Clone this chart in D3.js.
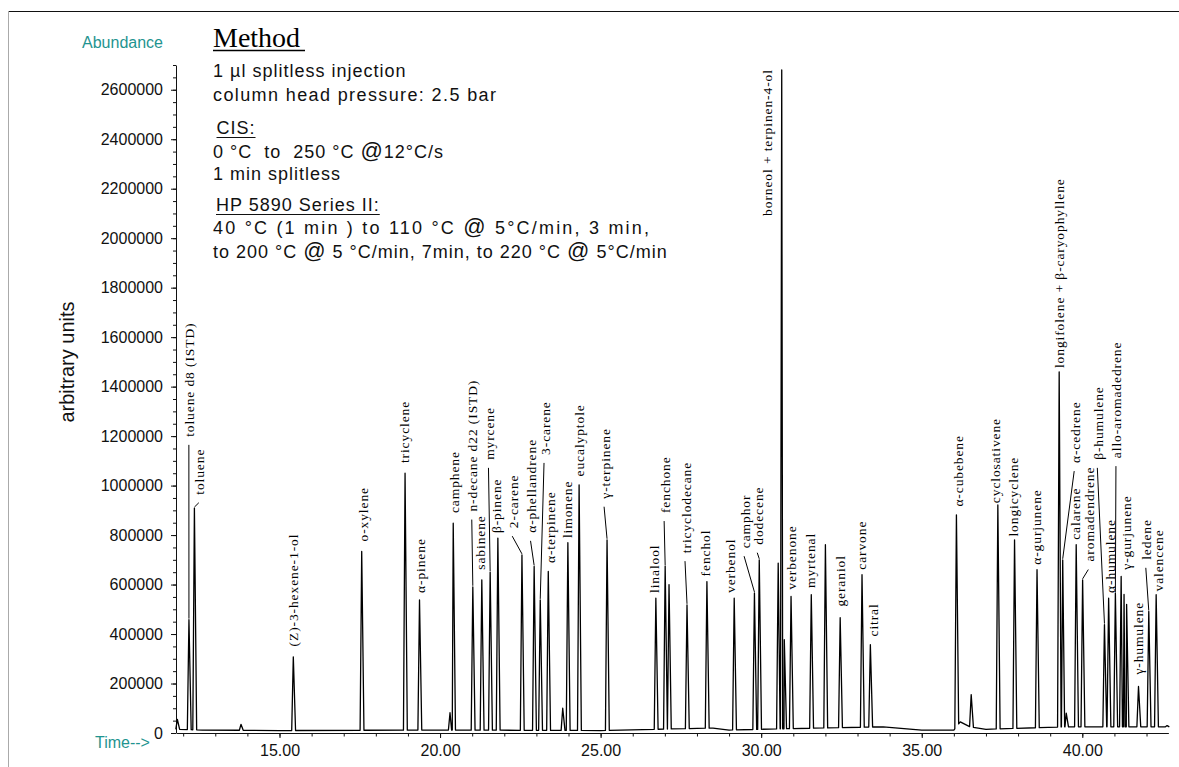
<!DOCTYPE html>
<html>
<head>
<meta charset="utf-8">
<script src="https://cdn.jsdelivr.net/npm/d3@7"></script>
<style>
  html, body { margin: 0; padding: 0; background: #fff; }
  svg { display: block; }
  text { white-space: pre; }
</style>
</head>
<body>
<svg id="chart" width="1179" height="767"></svg>
<script>
// labelled peaks: retention time (min), apex abundance, label centre time, abundance at label foot
const labelNames = [
  "toluene d8 (ISTD)", "toluene", "(Z)-3-hexene-1-ol", "o-xylene", "tricyclene",
  "α-pinene", "camphene", "n-decane d22 (ISTD)", "sabinene", "myrcene",
  "β-pinene", "2-carene", "α-phellandrene", "3-carene", "α-terpinene",
  "limonene", "eucalyptole", "γ-terpinene", "linalool", "fenchone",
  "tricyclodecane", "fenchol", "verbenol", "camphor", "dodecene",
  "borneol + terpinen-4-ol", "verbenone", "myrtenal", "geraniol", "carvone",
  "citral", "α-cubebene", "cyclosativene", "longicyclene", "α-gurjunene",
  "longifolene + β-caryophyllene", "α-cedrene", "calarene", "aromadendrene", "β-humulene",
  "α-humulene", "allo-aromadedrene", "γ-gurjunene", "γ-humulene", "ledene",
  "valencene"
];
const peakTimes = [
  12.18, 12.35, 15.43, 17.56, 18.91,
  19.36, 20.41, 21.02, 21.30, 21.56,
  21.80, 22.55, 22.93, 23.12, 23.37,
  23.98, 24.33, 25.20, 26.72, 27.01,
  27.69, 28.31, 29.16, 29.79, 29.94,
  30.64, 30.93, 31.56, 32.46, 33.14,
  33.40, 36.08, 37.37, 37.89, 38.59,
  39.28, 39.39, 39.81, 40.01, 40.69,
  40.82, 41.03, 41.21, 41.75, 42.07,
  42.30
];
const peakHeights = [
  458000, 909000, 308000, 734000, 1050000,
  538000, 848000, 591000, 619000, 650000,
  788000, 720000, 673000, 538000, 653000,
  769000, 1003000, 781000, 545000, 675000,
  518000, 612000, 545000, 566000, 700000,
  2680000, 552000, 559000, 466000, 640000,
  357000, 882000, 922000, 781000, 660000,
  1460000, 700000, 761000, 619000, 438000,
  545000, 566000, 633000, 188000, 491000,
  559000
];
const labelTimes = [
  12.24, 12.55, 15.48, 17.66, 18.91,
  19.43, 20.47, 21.05, 21.28, 21.57,
  21.78, 22.31, 22.88, 23.30, 23.47,
  23.99, 24.36, 25.17, 26.70, 27.04,
  27.69, 28.31, 29.07, 29.53, 29.94,
  30.24, 30.98, 31.56, 32.49, 33.14,
  33.52, 36.17, 37.32, 37.88, 38.61,
  39.31, 39.81, 39.83, 40.25, 40.53,
  40.90, 41.11, 41.42, 41.78, 42.04,
  42.40
];
const labelLevels = [
  1197000, 963000, 350000, 774000, 1091000,
  566000, 889000, 895000, 660000, 1104000,
  808000, 828000, 809000, 1124000, 687000,
  788000, 1037000, 947000, 566000, 889000,
  727000, 633000, 566000, 747000, 761000,
  2090000, 579000, 586000, 511000, 660000,
  390000, 915000, 929000, 794000, 680000,
  1475000, 1091000, 781000, 693000, 1104000,
  566000, 1111000, 660000, 236000, 700000,
  572000
];

// peaks without a label
const minorTimes = [11.82, 13.80, 20.31, 23.82, 27.13, 30.53, 30.72, 32.00, 36.54, 39.50, 41.30, 41.38, 42.64];
const minorHeights = [55000, 35000, 82000, 100000, 600000, 687000, 377000, 761000, 155000, 80000, 560000, 520000, 30000];

// baseline drift
const baseTimes = [11.79, 12.6, 15.0, 20.0, 25.0, 28.5, 29.0, 31.0, 33.8, 35.0, 36.0, 36.2, 36.5, 37.0, 39.5, 42.68];
const baseLevels = [15000, 12000, 10000, 12000, 10000, 20000, 12000, 18000, 25000, 12000, 12000, 45000, 25000, 15000, 25000, 25000];

const xTickValues = [15, 20, 25, 30, 35, 40];
const yTickValues = [0, 200000, 400000, 600000, 800000, 1000000, 1200000, 1400000,
  1600000, 1800000, 2000000, 2200000, 2400000, 2600000];

const methodLines = [
  "1 µl splitless injection",
  "column head pressure: 2.5 bar",
  "CIS:",
  "0 °C  to  250 °C @12°C/s",
  "1 min splitless",
  "HP 5890 Series II:",
  "40 °C (1 min ) to 110 °C @ 5°C/min, 3 min,",
  "to 200 °C @ 5 °C/min, 7min, to 220 °C @ 5°C/min"
];

const SANS = "'Liberation Sans', Arial, sans-serif";
const SERIF = "'Liberation Serif', 'Times New Roman', serif";
const TEAL = "#1f9490";

const svg = d3.select("#chart");

// frame
svg.append("line").attr("x1", 8).attr("x2", 1179).attr("y1", 11.5).attr("y2", 11.5)
  .attr("stroke", "#111").attr("stroke-width", 1.2);
svg.append("line").attr("x1", 8.5).attr("x2", 8.5).attr("y1", 11).attr("y2", 767)
  .attr("stroke", "#aaa");

// scales
const pxPerMin = (1082.3 - 279.5) / 25;
const x = d3.scaleLinear()
  .domain([11.79, 42.68])
  .range([279.5 + (11.79 - 15) * pxPerMin, 279.5 + (42.68 - 15) * pxPerMin]);
const y = d3.scaleLinear().domain([0, 2700000]).range([733, 65]);

// y axis
const yAxis = svg.append("g").attr("transform", "translate(176,0)")
  .call(d3.axisLeft(y).tickValues(yTickValues).tickSize(5).tickSizeOuter(0)
    .tickPadding(8).tickFormat(d3.format("d")));
yAxis.append("g")
  .call(d3.axisLeft(y).tickValues(d3.range(50000, 2700001, 50000)).tickSize(3)
    .tickSizeOuter(0).tickFormat(""))
  .select(".domain").remove();

// x axis
const xAxis = svg.append("g").attr("transform", "translate(0,733)")
  .call(d3.axisBottom(x).tickValues(xTickValues).tickSize(5).tickSizeOuter(0)
    .tickPadding(7).tickFormat(d3.format(".2f")));
xAxis.append("g")
  .call(d3.axisBottom(x).tickValues(d3.range(12, 43, 1)).tickSize(3.5)
    .tickSizeOuter(0).tickFormat(""))
  .select(".domain").remove();

[yAxis, xAxis].forEach(g => {
  g.attr("font-family", SANS).attr("font-size", 16);
  g.selectAll("text").attr("fill", "#111");
  g.selectAll("line, path").attr("stroke", "#111");
});

// axis captions
svg.append("text").attr("x", 163).attr("y", 48).attr("text-anchor", "end")
  .attr("font-family", SANS).attr("font-size", 16).attr("fill", TEAL).text("Abundance");
svg.append("text").attr("x", 95).attr("y", 748)
  .attr("font-family", SANS).attr("font-size", 16).attr("fill", TEAL).text("Time-->");
svg.append("text").attr("transform", "translate(74,362) rotate(-90)").attr("text-anchor", "middle")
  .attr("font-family", SANS).attr("font-size", 20).attr("fill", "#111").text("arbitrary units");

// chromatogram trace
const baseAt = d3.scaleLinear().domain(baseTimes).range(baseLevels).clamp(true);
const allTimes = peakTimes.concat(minorTimes);
const allHeights = peakHeights.concat(minorHeights);
const pts = [];
baseTimes.forEach((t, i) => {
  const inside = allTimes.some(p => t > p - 0.06 && t < p + 0.08);
  if (!inside) pts.push([t, baseLevels[i]]);
});
allTimes.forEach((t, i) => {
  pts.push([t - 0.05, baseAt(t - 0.05)]);
  pts.push([t, allHeights[i]]);
  pts.push([t + 0.07, baseAt(t + 0.07)]);
});
pts.sort((a, b) => a[0] - b[0]);

svg.append("path")
  .datum(pts)
  .attr("fill", "none")
  .attr("stroke", "#000")
  .attr("stroke-width", 1.3)
  .attr("stroke-linejoin", "round")
  .attr("d", d3.line().x(d => x(d[0])).y(d => y(d[1])));

// peak labels and leaders
const labels = svg.append("g").attr("class", "labels");
labelNames.forEach((name, i) => {
  const lx = x(labelTimes[i]);
  const ly = y(labelLevels[i]);
  const px = x(peakTimes[i]);
  const py = y(peakHeights[i]);
  if (py - (ly + 8) > 4) {
    labels.append("line")
      .attr("x1", lx - 2).attr("y1", ly + 8)
      .attr("x2", px).attr("y2", py - 1)
      .attr("stroke", "#000").attr("stroke-width", 1);
  }
  labels.append("text")
    .attr("transform", `translate(${lx + 3.5},${ly}) rotate(-90)`)
    .attr("font-family", SERIF)
    .attr("font-size", 13.5)
    .attr("letter-spacing", 0.9)
    .attr("fill", "#000")
    .text(name);
});

// method block
svg.append("text").attr("x", 213).attr("y", 47)
  .attr("font-family", SERIF).attr("font-size", 28).attr("fill", "#000").text("Method");
svg.append("line").attr("x1", 213).attr("x2", 305).attr("y1", 50.5).attr("y2", 50.5)
  .attr("stroke", "#000").attr("stroke-width", 1.3);

const methodPos = [[213, 77], [213, 101], [216.5, 134], [213, 158], [213, 180],
  [216, 211], [213, 234], [213, 258]];
const underlined = [2, 5];
const stretched = { 6: 437, 1: 284 };
methodLines.forEach((line, i) => {
  const t = svg.append("text")
    .attr("x", methodPos[i][0]).attr("y", methodPos[i][1])
    .attr("font-family", SANS).attr("font-size", 18)
    .attr("letter-spacing", 1.0)
    .attr("fill", "#111");
  line.split("@").forEach((part, k) => {
    if (k > 0) t.append("tspan").attr("font-size", 22).text("@");
    t.append("tspan").text(part);
  });
  if (stretched[i]) t.attr("textLength", stretched[i]).attr("lengthAdjust", "spacing");
  if (underlined.includes(i)) {
    const w = t.node().getComputedTextLength();
    svg.append("line")
      .attr("x1", methodPos[i][0]).attr("x2", methodPos[i][0] + w)
      .attr("y1", methodPos[i][1] + 3.5).attr("y2", methodPos[i][1] + 3.5)
      .attr("stroke", "#111").attr("stroke-width", 1);
  }
});
</script>
</body>
</html>
